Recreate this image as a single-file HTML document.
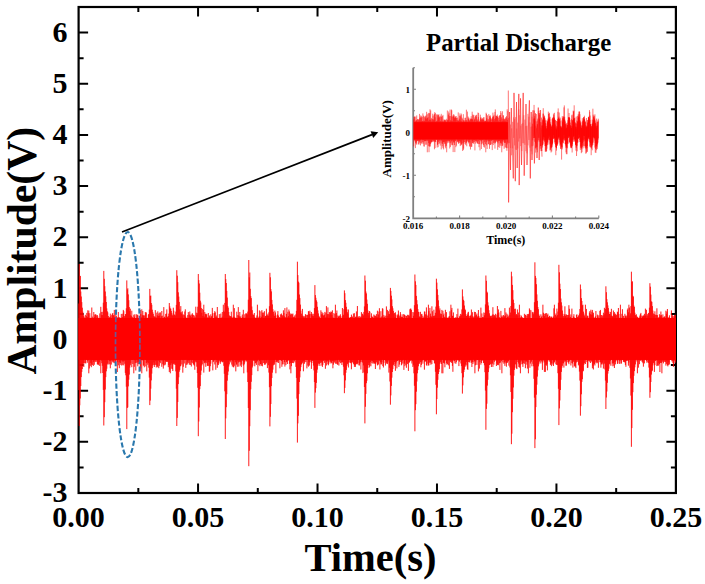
<!DOCTYPE html><html><head><meta charset="utf-8"><style>html,body{margin:0;padding:0;background:#fff;}svg{display:block;}text{font-family:"Liberation Serif",serif;font-weight:bold;fill:#000;}</style></head><body><svg width="705" height="584" viewBox="0 0 705 584"><rect x="0" y="0" width="705" height="584" fill="#fff"/><path d="M138.33 493.0v-5M138.33 7.0v5M198.06 493.0v-9.5M198.06 7.0v9.5M257.79 493.0v-5M257.79 7.0v5M317.52 493.0v-9.5M317.52 7.0v9.5M377.25 493.0v-5M377.25 7.0v5M436.98 493.0v-9.5M436.98 7.0v9.5M496.71 493.0v-5M496.71 7.0v5M556.44 493.0v-9.5M556.44 7.0v9.5M616.17 493.0v-5M616.17 7.0v5M78.6 467.42h5M675.9 467.42h-5M78.6 441.84h9.5M675.9 441.84h-9.5M78.6 416.26h5M675.9 416.26h-5M78.6 390.68h9.5M675.9 390.68h-9.5M78.6 365.11h5M675.9 365.11h-5M78.6 339.53h9.5M675.9 339.53h-9.5M78.6 313.95h5M675.9 313.95h-5M78.6 288.37h9.5M675.9 288.37h-9.5M78.6 262.79h5M675.9 262.79h-5M78.6 237.21h9.5M675.9 237.21h-9.5M78.6 211.63h5M675.9 211.63h-5M78.6 186.05h9.5M675.9 186.05h-9.5M78.6 160.47h5M675.9 160.47h-5M78.6 134.89h9.5M675.9 134.89h-9.5M78.6 109.32h5M675.9 109.32h-5M78.6 83.74h9.5M675.9 83.74h-9.5M78.6 58.16h5M675.9 58.16h-5M78.6 32.58h9.5M675.9 32.58h-9.5" stroke="#000" stroke-width="2" fill="none"/><rect x="78.6" y="7.0" width="597.3" height="486.0" fill="none" stroke="#000" stroke-width="2.2"/><rect x="78.6" y="318.0" width="597.3" height="41.9" fill="#ff0000"/><path d="M78.8 303.5V390.1M79.3 264.0V426.0M79.8 276.0V405.3M80.3 275.9V398.5M80.8 291.5V386.0M81.3 296.5V377.1M81.8 302.1V371.9M82.3 307.7V369.0M82.8 311.7V364.5M83.3 314.6V363.1M83.8 316.1V367.0M84.3 317.4V363.1M84.8 318.6V359.1M85.3 314.8V363.1M85.8 318.9V363.5M86.3 315.9V359.3M86.8 312.9V359.8M87.3 317.0V362.8M87.8 310.3V360.8M88.3 313.1V360.1M88.8 310.6V373.3M89.3 318.0V368.5M89.8 313.2V359.1M90.3 317.8V365.9M90.8 318.3V362.9M91.3 318.2V367.2M91.8 307.5V364.5M92.3 316.6V365.0M92.8 318.8V360.0M93.3 318.2V366.0M93.8 312.0V362.0M94.3 316.9V364.8M94.8 314.6V360.6M95.3 314.6V362.1M95.8 314.2V360.5M96.3 315.3V360.3M96.8 318.9V361.9M97.3 315.0V364.4M97.8 316.4V364.5M98.3 318.5V364.4M98.8 318.6V365.2M99.3 318.8V362.4M99.8 313.4V366.0M100.3 318.7V359.6M100.8 306.8V373.3M101.3 311.9V360.7M101.8 315.1V363.2M102.3 315.1V365.8M102.8 311.8V373.0M103.3 302.7V389.9M103.8 270.9V425.5M104.3 278.8V417.2M104.8 286.2V402.2M105.3 291.5V389.5M105.8 296.3V377.1M106.3 302.0V371.3M106.8 308.4V368.7M107.3 311.3V364.5M107.8 312.4V363.5M108.3 316.0V359.9M108.8 318.1V364.5M109.3 316.9V361.2M109.8 318.5V364.2M110.3 313.6V368.3M110.8 316.4V361.0M111.3 318.2V364.6M111.8 314.9V360.1M112.3 313.8V360.9M112.8 313.0V362.2M113.3 315.4V362.6M113.8 315.1V361.2M114.3 309.9V363.2M114.8 316.9V359.8M115.3 318.6V362.5M115.8 313.3V361.9M116.3 315.9V360.5M116.8 317.6V359.4M117.3 317.4V372.0M117.8 317.9V362.2M118.3 312.0V365.3M118.8 317.1V359.2M119.3 317.7V368.2M119.8 317.4V362.3M120.3 318.5V363.1M120.8 318.2V364.9M121.3 313.9V360.5M121.8 319.0V365.6M122.3 317.0V361.4M122.8 313.7V364.9M123.3 309.9V361.6M123.8 311.2V365.4M124.3 316.0V360.9M124.8 317.5V363.8M125.3 314.2V372.9M125.8 314.1V375.3M126.3 308.3V386.7M126.8 280.4V429.1M127.3 289.5V408.0M127.8 288.3V407.3M128.3 294.4V386.4M128.8 300.2V379.7M129.3 307.1V374.6M129.8 311.1V367.6M130.3 308.7V365.3M130.8 315.2V363.4M131.3 316.2V359.9M131.8 310.7V367.2M132.3 316.8V359.8M132.8 318.3V364.0M133.3 318.1V359.1M133.8 314.7V373.3M134.3 316.7V366.8M134.8 314.3V360.2M135.3 318.7V363.1M135.8 318.9V370.5M136.3 314.2V362.8M136.8 317.9V359.2M137.3 315.1V362.5M137.8 314.6V366.3M138.3 318.2V364.1M138.8 318.7V361.7M139.3 316.3V361.8M139.8 318.5V362.6M140.3 309.9V370.9M140.8 313.9V368.5M141.3 317.4V360.0M141.8 309.3V373.3M142.3 315.2V360.3M142.8 311.0V360.2M143.3 315.6V365.5M143.8 315.2V365.6M144.3 315.5V367.3M144.8 318.5V359.1M145.3 312.0V360.0M145.8 313.3V366.4M146.3 312.4V363.0M146.8 318.8V371.4M147.3 317.8V362.3M147.8 318.3V364.8M148.3 314.6V363.2M148.8 314.0V367.7M149.3 309.6V377.6M149.8 288.9V405.1M150.3 295.9V400.6M150.8 295.6V388.7M151.3 303.0V380.4M151.8 304.8V373.6M152.3 309.7V368.2M152.8 312.1V365.5M153.3 313.8V364.9M153.8 315.9V362.5M154.3 316.8V367.0M154.8 316.5V365.0M155.3 310.1V364.8M155.8 317.3V361.2M156.3 317.7V367.5M156.8 312.7V365.2M157.3 315.3V366.5M157.8 311.4V367.3M158.3 316.0V360.8M158.8 313.4V368.2M159.3 315.6V365.9M159.8 312.6V362.1M160.3 312.4V363.2M160.8 318.1V360.0M161.3 316.2V360.5M161.8 311.0V366.8M162.3 315.7V360.5M162.8 319.0V364.3M163.3 318.7V368.6M163.8 307.1V365.4M164.3 317.0V360.4M164.8 316.6V365.3M165.3 318.4V364.5M165.8 314.0V361.4M166.3 313.5V361.6M166.8 309.4V361.9M167.3 316.7V361.8M167.8 317.3V361.6M168.3 316.0V367.2M168.8 313.6V365.0M169.3 303.0V372.0M169.8 306.4V369.5M170.3 308.4V373.3M170.8 308.7V365.0M171.3 310.9V363.4M171.8 312.9V368.7M172.3 314.7V369.1M172.8 316.0V371.0M173.3 307.7V364.2M173.8 310.7V363.4M174.3 314.7V364.6M174.8 314.6V363.5M175.3 315.5V365.0M175.8 311.6V371.4M176.3 304.9V388.7M176.8 270.2V426.0M177.3 275.7V417.9M177.8 282.2V402.0M178.3 292.3V384.1M178.8 296.6V377.3M179.3 301.9V371.7M179.8 309.4V369.9M180.3 312.4V366.3M180.8 306.1V366.1M181.3 312.2V359.1M181.8 313.8V364.5M182.3 311.3V359.8M182.8 315.3V372.7M183.3 314.4V366.8M183.8 319.0V359.4M184.3 315.1V363.5M184.8 311.5V359.7M185.3 309.3V359.5M185.8 316.6V367.9M186.3 318.9V364.9M186.8 317.9V359.2M187.3 318.9V364.5M187.8 315.1V362.6M188.3 312.1V360.5M188.8 318.3V363.2M189.3 314.6V364.7M189.8 311.5V360.3M190.3 316.0V365.0M190.8 314.7V359.5M191.3 317.2V366.5M191.8 314.5V362.4M192.3 313.2V360.0M192.8 314.5V363.1M193.3 315.0V364.3M193.8 318.2V364.7M194.3 315.5V365.7M194.8 317.4V369.8M195.3 317.5V361.2M195.8 306.7V362.3M196.3 312.7V362.2M196.8 315.0V366.7M197.3 313.1V373.0M197.8 306.7V387.8M198.3 274.0V436.2M198.8 280.1V421.5M199.3 283.5V407.5M199.8 292.7V389.1M200.3 300.7V386.1M200.8 302.5V374.9M201.3 308.0V370.6M201.8 312.7V365.5M202.3 308.9V364.3M202.8 315.9V359.4M203.3 310.0V361.1M203.8 304.7V372.6M204.3 316.6V362.7M204.8 312.0V363.3M205.3 314.1V362.4M205.8 313.7V366.8M206.3 314.7V362.9M206.8 313.9V360.6M207.3 318.3V365.7M207.8 317.2V365.9M208.3 313.0V365.9M208.8 318.9V362.0M209.3 315.4V371.8M209.8 316.5V371.2M210.3 318.1V366.2M210.8 314.3V363.7M211.3 316.7V359.7M211.8 315.9V360.0M212.3 307.9V359.4M212.8 313.2V370.4M213.3 318.4V362.1M213.8 319.0V361.1M214.3 313.0V360.0M214.8 311.1V364.5M215.3 312.3V359.3M215.8 316.9V369.8M216.3 315.5V362.3M216.8 317.3V360.2M217.3 307.0V367.8M217.8 317.9V364.7M218.3 318.8V365.1M218.8 318.7V363.3M219.3 314.1V361.4M219.8 317.8V359.4M220.3 318.2V363.8M220.8 313.6V362.0M221.3 317.5V361.3M221.8 319.0V361.2M222.3 312.0V362.4M222.8 316.5V362.0M223.3 304.7V361.6M223.8 310.7V365.8M224.3 311.8V373.8M224.8 302.9V391.3M225.3 274.0V439.0M225.8 279.1V418.4M226.3 283.0V407.2M226.8 290.9V394.2M227.3 297.6V380.7M227.8 306.1V375.1M228.3 307.7V371.5M228.8 312.0V366.5M229.3 315.4V364.4M229.8 316.2V360.9M230.3 316.4V362.4M230.8 316.1V360.8M231.3 311.7V359.9M231.8 316.7V364.6M232.3 318.8V366.5M232.8 317.5V361.3M233.3 304.7V367.2M233.8 316.7V367.3M234.3 308.1V365.8M234.8 317.3V360.1M235.3 317.9V362.3M235.8 318.0V371.4M236.3 318.6V364.6M236.8 311.7V364.4M237.3 318.0V366.8M237.8 315.1V360.9M238.3 307.1V362.5M238.8 315.5V366.7M239.3 316.4V362.1M239.8 312.0V360.9M240.3 317.6V365.7M240.8 316.3V362.1M241.3 318.2V367.1M241.8 319.1V364.3M242.3 314.5V359.7M242.8 316.9V361.1M243.3 309.8V365.6M243.8 317.9V373.3M244.3 318.1V364.4M244.8 314.3V362.4M245.3 317.6V360.7M245.8 313.3V359.4M246.3 314.0V361.6M246.8 313.2V360.9M247.3 314.4V372.4M247.8 311.6V382.0M248.3 299.7V408.0M248.8 260.0V466.2M249.3 277.3V450.8M249.8 272.5V426.2M250.3 288.8V410.2M250.8 296.1V389.3M251.3 298.1V381.8M251.8 306.5V375.1M252.3 310.2V367.5M252.8 314.3V365.8M253.3 314.7V360.9M253.8 315.1V359.5M254.3 313.0V361.1M254.8 317.1V366.3M255.3 318.1V363.3M255.8 318.1V363.1M256.4 317.7V364.9M256.9 315.4V362.1M257.4 304.7V360.9M257.9 318.1V371.2M258.4 318.7V359.0M258.9 316.7V365.1M259.4 310.4V361.1M259.9 316.3V366.2M260.4 318.8V364.3M260.9 311.3V364.0M261.4 316.8V365.8M261.9 310.1V359.5M262.4 312.6V366.3M262.9 315.1V360.5M263.4 312.5V363.1M263.9 318.4V359.3M264.4 311.2V364.8M264.9 317.4V363.4M265.4 315.9V364.6M265.9 316.1V359.2M266.4 308.7V363.3M266.9 315.1V361.7M267.4 315.5V368.1M267.9 313.7V359.0M268.4 315.7V365.3M268.9 312.3V372.6M269.4 306.2V387.2M269.9 272.8V426.4M270.4 277.3V416.8M270.9 289.1V404.0M271.4 291.4V386.1M271.9 299.9V378.0M272.4 304.4V372.7M272.9 309.2V369.6M273.4 311.7V365.3M273.9 314.4V363.5M274.4 316.0V364.7M274.9 310.6V362.0M275.4 312.4V359.1M275.9 315.4V373.3M276.4 318.2V362.1M276.9 318.1V360.6M277.4 314.5V362.4M277.9 311.1V360.9M278.4 315.5V363.0M278.9 318.3V359.3M279.4 317.3V359.7M279.9 317.3V368.3M280.4 314.3V359.8M280.9 318.1V360.3M281.4 313.5V361.0M281.9 314.8V366.8M282.4 315.4V364.4M282.9 316.9V359.2M283.4 310.3V359.4M283.9 312.9V364.3M284.4 316.3V362.0M284.9 308.1V366.6M285.4 317.3V360.0M285.9 317.7V365.1M286.4 313.9V362.2M286.9 307.4V361.4M287.4 317.4V364.0M287.9 311.8V360.8M288.4 316.1V360.4M288.9 309.5V360.0M289.4 311.4V363.9M289.9 317.3V369.4M290.4 314.5V362.9M290.9 313.3V373.3M291.4 314.1V366.2M291.9 317.5V363.0M292.4 314.3V362.9M292.9 313.5V360.4M293.4 316.9V363.2M293.9 318.8V359.5M294.4 316.6V360.9M294.9 315.3V362.4M295.4 317.7V359.6M295.9 314.3V366.9M296.4 310.9V377.9M296.9 299.8V398.6M297.4 261.7V442.6M297.9 275.1V423.4M298.4 281.6V415.8M298.9 282.7V394.1M299.4 294.5V382.0M299.9 298.1V377.4M300.4 304.6V371.2M300.9 310.7V367.1M301.4 313.6V364.5M301.9 315.9V363.8M302.4 308.9V362.8M302.9 315.6V361.4M303.4 316.4V371.3M303.9 318.3V360.8M304.4 316.3V363.8M304.9 318.8V362.3M305.4 314.1V359.7M305.9 315.1V362.0M306.4 318.8V359.8M306.9 314.7V368.4M307.4 314.9V360.0M307.9 318.9V365.6M308.4 311.1V366.7M308.9 311.6V361.8M309.4 314.1V365.6M309.9 310.7V362.4M310.4 318.8V359.3M310.9 314.0V361.7M311.4 312.0V368.9M311.9 314.1V363.0M312.4 315.6V360.7M312.9 313.6V361.0M313.4 316.1V365.6M313.9 314.1V370.4M314.4 308.1V382.1M314.9 285.1V407.9M315.4 295.1V392.6M315.9 297.8V388.2M316.4 300.3V382.9M316.9 301.8V372.8M317.4 306.8V369.6M317.9 310.4V366.0M318.4 313.4V363.3M318.9 315.8V364.4M319.4 316.8V363.8M319.9 318.3V366.0M320.4 318.8V362.9M320.9 310.3V361.1M321.4 314.3V362.6M321.9 311.9V365.7M322.4 314.4V366.9M322.9 312.9V364.9M323.4 315.6V360.9M323.9 315.3V360.5M324.4 314.6V362.9M324.9 311.9V359.4M325.4 317.4V368.8M325.9 312.7V361.2M326.4 306.1V365.5M326.9 316.6V362.0M327.4 314.1V360.9M327.9 307.4V364.3M328.4 314.1V365.3M328.9 317.7V363.6M329.4 312.1V359.0M329.9 314.6V361.7M330.4 312.7V361.6M330.9 311.5V363.5M331.4 311.9V362.6M331.9 315.1V363.2M332.4 310.3V361.0M332.9 317.3V368.3M333.4 318.9V364.7M333.9 313.1V361.2M334.4 318.6V362.6M334.9 313.9V360.5M335.4 304.7V363.7M335.9 318.9V360.5M336.4 313.1V363.8M336.9 310.5V359.6M337.4 318.4V364.6M337.9 315.5V364.7M338.4 316.7V359.4M338.9 316.3V365.6M339.4 315.6V361.8M339.9 318.8V359.4M340.4 314.3V363.2M340.9 316.3V360.3M341.4 318.6V362.5M341.9 317.9V365.0M342.4 308.0V362.0M342.9 315.7V362.6M343.4 314.7V366.7M343.9 309.2V375.3M344.4 290.4V393.2M344.9 293.2V387.9M345.4 300.1V380.4M345.9 302.8V372.8M346.4 306.8V369.9M346.9 309.4V365.8M347.4 312.2V364.2M347.9 313.8V363.0M348.4 309.5V367.5M348.9 317.1V362.2M349.4 318.4V360.1M349.9 318.3V362.7M350.4 317.1V363.2M350.9 317.3V361.8M351.4 314.6V369.3M351.9 317.0V362.8M352.4 316.5V362.2M352.9 318.6V360.2M353.4 313.5V363.7M353.9 318.0V364.4M354.4 313.2V366.9M354.9 318.4V365.0M355.4 317.0V366.9M355.9 316.5V364.4M356.4 311.4V364.1M356.9 316.9V362.7M357.4 306.0V364.3M357.9 317.8V363.0M358.4 317.3V359.9M358.9 316.1V365.3M359.4 317.9V365.5M359.9 316.1V363.5M360.4 317.1V362.1M360.9 318.1V369.5M361.4 312.1V359.3M361.9 316.6V361.9M362.4 313.7V362.6M362.9 314.4V373.1M363.4 315.4V365.4M363.9 311.9V372.3M364.4 306.4V387.0M364.9 275.5V423.4M365.4 280.7V406.8M365.9 291.5V393.9M366.4 293.4V383.2M366.9 299.6V380.8M367.4 303.8V373.3M367.9 310.4V368.1M368.4 312.9V365.1M368.9 315.4V362.8M369.4 311.0V367.5M369.9 311.7V365.7M370.4 318.6V362.2M370.9 318.0V366.3M371.4 313.3V360.8M371.9 315.9V363.1M372.4 317.1V361.1M372.9 317.2V363.7M373.4 318.6V362.3M373.9 314.5V363.5M374.4 315.5V363.2M374.9 318.8V363.9M375.4 315.7V369.0M375.9 316.4V363.7M376.4 314.1V362.3M376.9 317.2V360.4M377.4 310.7V365.4M377.9 317.4V365.1M378.4 314.4V364.3M378.9 311.5V360.6M379.4 308.2V360.7M379.9 318.8V369.5M380.4 317.6V362.4M380.9 311.2V364.4M381.4 317.4V364.3M381.9 316.3V362.1M382.4 308.3V359.3M382.9 308.7V366.0M383.4 317.5V367.5M383.9 314.9V362.9M384.4 317.3V360.1M384.9 316.3V359.9M385.4 319.0V365.5M385.9 315.6V361.1M386.4 306.4V363.6M386.9 318.5V362.4M387.4 309.9V364.1M387.9 315.9V362.5M388.4 311.2V360.6M388.9 313.8V372.6M389.4 314.1V367.8M389.9 309.4V381.5M390.4 287.9V404.7M390.9 290.9V395.4M391.4 295.7V385.9M391.9 299.4V377.7M392.4 306.2V372.0M392.9 308.3V369.1M393.4 310.9V365.2M393.9 313.8V364.0M394.4 312.9V362.0M394.9 317.0V366.1M395.4 312.3V370.8M395.9 314.6V363.5M396.4 318.2V361.6M396.9 318.2V368.4M397.4 315.4V361.0M397.9 314.3V360.8M398.4 310.5V360.2M398.9 314.8V366.9M399.4 317.5V364.6M399.9 316.0V361.7M400.4 312.1V359.8M400.9 314.3V362.0M401.4 316.8V365.3M401.9 316.8V364.4M402.4 316.9V360.6M402.9 314.3V363.4M403.4 318.0V359.3M403.9 314.0V369.9M404.4 314.9V363.7M404.9 315.1V366.2M405.4 318.1V360.3M405.9 315.8V364.9M406.4 316.0V367.8M406.9 317.9V362.7M407.4 314.8V364.1M407.9 318.7V359.0M408.4 315.4V370.9M408.9 314.8V362.9M409.4 316.2V362.3M409.9 309.3V361.3M410.4 308.7V360.8M410.9 308.6V360.0M411.4 309.9V360.5M411.9 318.8V363.5M412.4 318.1V361.3M412.9 312.0V367.0M413.4 315.8V365.4M413.9 312.4V373.3M414.4 305.2V385.8M414.9 274.5V431.3M415.4 281.3V410.2M415.9 284.9V404.2M416.4 295.9V391.7M416.9 300.2V381.5M417.4 304.3V373.3M417.9 309.1V370.1M418.4 311.8V366.3M418.9 312.1V364.0M419.4 316.5V363.6M419.9 316.8V360.6M420.4 311.8V362.1M420.9 317.4V367.3M421.4 314.3V364.9M421.9 313.9V361.7M422.4 318.9V360.4M422.9 315.7V363.7M423.4 317.4V359.1M423.9 318.0V360.2M424.4 311.5V369.7M424.9 311.7V361.7M425.4 314.3V361.5M425.9 317.3V361.0M426.4 307.4V365.1M426.9 314.7V365.8M427.4 318.6V360.2M427.9 315.8V363.6M428.4 304.7V365.5M428.9 311.1V365.4M429.4 317.4V362.7M429.9 307.9V360.1M430.4 313.6V362.6M430.9 316.0V364.7M431.4 316.7V359.0M431.9 306.3V364.1M432.4 311.2V359.5M432.9 316.5V359.7M433.4 315.9V360.2M433.9 309.7V360.5M434.4 316.1V363.1M434.9 315.3V363.7M435.4 312.8V371.8M435.9 306.6V384.8M436.4 278.7V414.3M436.9 282.6V399.1M437.4 289.3V387.7M437.9 294.9V379.8M438.4 300.3V374.0M438.9 306.2V372.0M439.4 310.3V369.1M439.9 308.4V363.9M440.4 313.5V362.4M440.9 316.4V360.4M441.4 313.9V364.0M441.9 309.9V373.3M442.4 319.0V359.1M442.9 310.8V373.3M443.4 314.9V363.0M443.9 313.5V362.2M444.4 316.8V363.6M444.9 318.7V367.3M445.4 309.8V360.5M445.9 317.5V359.2M446.4 312.1V363.2M446.9 317.7V364.7M447.4 318.6V364.1M447.9 317.6V360.6M448.4 318.7V365.4M448.9 316.6V359.6M449.4 316.2V368.9M449.9 311.3V360.6M450.4 318.9V362.1M450.9 304.7V360.7M451.4 309.9V362.9M451.9 307.9V361.4M452.4 315.8V365.9M452.9 315.9V371.8M453.4 312.4V359.5M453.9 318.8V360.9M454.4 318.7V361.2M454.9 317.7V363.3M455.4 318.6V359.6M455.9 317.1V363.8M456.4 318.7V362.2M456.9 314.1V359.4M457.4 317.3V359.7M457.9 308.6V360.7M458.4 318.7V360.1M458.9 318.0V366.1M459.4 316.6V361.7M459.9 315.8V360.3M460.4 313.9V359.7M460.9 316.1V363.5M461.4 314.5V366.1M461.9 309.4V373.2M462.4 289.4V393.6M462.9 296.4V385.4M463.4 299.8V377.4M463.9 300.8V372.0M464.4 305.5V369.7M464.9 308.8V366.9M465.4 310.1V364.7M465.9 314.2V366.3M466.4 316.0V361.9M466.9 316.0V364.9M467.4 314.6V369.1M467.9 312.6V369.9M468.4 311.8V362.1M468.9 315.6V359.3M469.4 317.7V361.9M469.9 316.0V362.7M470.4 316.0V360.5M470.9 314.8V359.2M471.4 309.5V362.8M471.9 317.4V367.0M472.4 312.2V362.0M472.9 316.1V364.0M473.4 317.4V359.0M473.9 317.6V362.3M474.4 311.8V361.2M474.9 316.4V373.3M475.4 312.0V365.3M475.9 315.6V361.4M476.4 314.8V359.4M476.9 313.5V364.9M477.4 317.1V360.1M477.9 316.1V359.7M478.4 310.0V371.4M478.9 315.9V359.4M479.4 318.6V368.6M479.9 317.4V362.1M480.4 318.6V359.5M480.9 307.6V364.7M481.4 318.9V363.0M481.9 313.4V360.6M482.4 317.1V360.5M482.9 317.3V359.7M483.4 317.2V363.1M483.9 312.4V362.6M484.4 315.3V365.3M484.9 313.0V372.2M485.4 304.4V390.6M485.9 275.5V429.8M486.4 280.8V408.9M486.9 291.6V403.7M487.4 292.6V385.6M487.9 302.3V379.8M488.4 305.5V372.1M488.9 310.2V368.3M489.4 313.3V365.0M489.9 315.5V365.0M490.4 316.1V364.0M490.9 316.5V360.1M491.4 315.7V367.0M491.9 318.9V363.8M492.4 314.6V363.5M492.9 307.2V366.9M493.4 314.4V360.3M493.9 316.9V364.7M494.4 315.2V361.8M494.9 315.5V359.8M495.4 313.8V359.0M495.9 316.8V360.9M496.4 318.9V366.0M496.9 314.6V363.3M497.4 306.0V365.1M497.9 313.0V364.3M498.4 309.4V365.2M498.9 312.4V360.6M499.4 317.2V363.2M499.9 318.4V369.9M500.4 318.2V362.7M500.9 310.9V359.7M501.4 316.9V361.2M501.9 315.4V373.3M502.4 316.5V359.6M502.9 318.7V362.4M503.4 315.0V359.4M503.9 316.2V363.8M504.4 316.4V362.5M504.9 308.1V365.9M505.4 315.4V361.5M505.9 312.4V363.3M506.4 318.0V366.7M506.9 313.7V362.9M507.4 316.9V362.7M507.9 314.7V361.4M508.4 316.3V361.2M508.9 318.3V365.7M509.4 307.6V359.1M509.9 315.1V367.5M510.4 312.5V375.3M510.9 306.0V392.0M511.4 271.7V444.2M511.9 276.3V433.7M512.4 284.9V412.2M512.9 290.2V398.8M513.4 299.7V387.5M513.9 303.0V375.7M514.4 308.9V369.9M514.9 311.9V367.7M515.4 308.7V364.4M515.9 315.3V359.2M516.4 314.0V368.4M516.9 315.1V369.1M517.4 309.4V359.1M517.9 315.5V362.0M518.4 312.5V363.6M518.9 318.4V367.0M519.4 304.7V367.6M519.9 314.8V365.1M520.4 318.6V373.3M520.9 316.9V361.7M521.4 315.6V360.6M521.9 317.0V364.3M522.4 317.6V363.8M522.9 317.8V366.9M523.4 318.2V363.3M523.9 318.5V360.3M524.4 313.8V363.8M524.9 319.0V360.5M525.4 315.0V368.2M525.9 314.6V361.6M526.4 318.0V361.5M526.9 316.0V364.7M527.4 314.1V368.6M527.9 318.2V362.3M528.4 314.2V373.3M528.9 313.8V359.5M529.4 308.4V359.6M529.9 309.8V367.8M530.4 318.1V363.6M530.9 310.2V359.0M531.4 318.5V361.7M531.9 318.6V366.3M532.4 311.9V359.3M532.9 313.0V363.8M533.4 314.2V366.3M533.9 312.1V378.8M534.4 302.2V397.7M534.9 262.3V448.1M535.4 275.9V439.3M535.9 277.9V407.1M536.4 284.2V394.7M536.9 294.4V384.7M537.4 300.8V376.6M537.9 307.0V370.3M538.4 309.2V366.4M538.9 314.4V364.3M539.4 315.8V361.1M539.9 318.4V362.4M540.4 318.7V360.3M540.9 314.3V363.5M541.4 317.0V361.5M541.9 315.8V360.0M542.4 318.2V369.9M542.9 304.7V362.5M543.4 312.7V359.7M543.9 313.6V360.9M544.4 316.1V371.9M544.9 314.0V362.2M545.4 313.3V371.9M545.9 318.6V365.0M546.4 313.1V365.7M546.9 317.4V363.9M547.4 314.8V370.4M547.9 313.6V361.4M548.4 317.1V359.3M548.9 317.2V360.1M549.4 315.8V360.6M549.9 316.1V361.9M550.4 317.4V364.9M550.9 318.9V363.5M551.4 316.6V366.2M551.9 316.8V363.3M552.4 318.8V360.2M552.9 318.9V364.7M553.4 316.5V366.0M553.9 308.3V363.3M554.4 304.7V362.2M554.9 318.1V361.1M555.4 315.0V359.2M555.9 313.5V364.2M556.4 316.4V364.9M556.9 308.6V361.1M557.4 315.1V365.1M557.9 311.5V373.2M558.4 302.7V388.8M558.9 264.8V425.1M559.4 272.3V408.4M559.9 283.7V400.5M560.4 289.0V390.0M560.9 298.5V379.8M561.4 302.3V371.9M561.9 305.6V367.7M562.4 310.5V365.8M562.9 313.8V362.9M563.4 316.1V363.4M563.9 318.7V367.6M564.4 314.3V360.7M564.9 306.3V362.1M565.4 316.1V361.2M565.9 314.3V365.7M566.4 314.6V365.6M566.9 318.0V360.2M567.4 315.0V360.1M567.9 317.3V362.2M568.4 314.9V362.6M568.9 305.2V364.2M569.4 308.8V361.5M569.9 318.9V359.0M570.4 316.8V359.8M570.9 314.4V365.5M571.4 318.4V360.2M571.9 308.6V363.1M572.4 319.0V363.5M572.9 318.6V367.6M573.4 316.4V361.8M573.9 314.2V360.4M574.4 317.5V366.4M574.9 317.9V365.5M575.4 318.3V366.7M575.9 318.7V368.1M576.4 314.9V362.5M576.9 314.3V359.3M577.4 317.2V361.8M577.9 316.9V359.4M578.4 315.3V365.4M578.9 316.3V364.2M579.4 313.5V371.6M579.9 309.0V380.6M580.4 284.5V415.7M580.9 289.2V406.2M581.4 298.1V394.3M581.9 301.0V381.9M582.4 305.3V379.2M582.9 304.7V371.5M583.4 311.6V370.8M583.9 313.5V364.8M584.4 315.4V363.3M584.9 316.8V360.1M585.4 304.7V364.0M585.9 318.0V360.2M586.4 308.9V360.0M586.9 317.4V362.1M587.4 315.7V367.9M587.9 315.8V367.7M588.4 318.1V360.7M588.9 317.8V360.5M589.4 312.5V361.6M589.9 311.0V359.7M590.4 314.2V363.0M590.9 309.7V359.7M591.4 314.6V360.9M591.9 311.7V362.2M592.4 309.9V368.3M592.9 314.6V365.8M593.4 312.7V369.5M593.9 317.7V363.5M594.4 317.6V364.3M594.9 318.8V365.5M595.4 316.4V359.5M595.9 311.0V362.7M596.4 318.2V361.7M596.9 318.5V363.4M597.4 314.6V362.7M597.9 316.4V359.6M598.4 317.9V367.8M598.9 315.2V359.7M599.4 318.9V359.4M599.9 311.0V362.2M600.4 309.9V362.3M600.9 317.7V367.7M601.4 315.0V364.5M601.9 317.4V363.8M602.4 315.4V362.7M602.9 317.8V364.5M603.4 312.7V368.6M603.9 315.3V360.5M604.4 307.8V363.7M604.9 313.8V369.4M605.4 308.9V380.6M605.9 286.3V409.0M606.4 292.2V397.5M606.9 299.1V391.5M607.4 302.3V382.8M607.9 305.4V373.6M608.4 308.1V371.0M608.9 311.6V368.7M609.4 314.0V363.8M609.9 313.9V364.4M610.4 311.9V360.7M610.9 315.8V365.8M611.4 308.8V359.4M611.9 315.6V360.0M612.4 316.2V363.5M612.9 316.8V366.3M613.4 310.5V363.3M613.9 313.7V365.7M614.4 312.1V368.0M614.9 315.1V362.0M615.4 313.7V364.4M615.9 315.6V361.3M616.4 314.7V359.3M616.9 318.6V360.3M617.4 311.7V363.9M617.9 312.3V363.5M618.4 308.0V359.4M618.9 314.0V360.4M619.4 317.8V363.9M619.9 318.0V360.7M620.4 304.7V360.2M620.9 317.8V363.7M621.4 318.1V363.5M621.9 313.8V360.3M622.4 309.2V359.6M622.9 319.1V359.8M623.4 315.8V362.0M623.9 318.5V360.8M624.4 318.0V362.4M624.9 313.8V361.9M625.4 316.1V364.9M625.9 315.4V366.8M626.4 317.5V360.8M626.9 315.8V360.9M627.4 309.7V359.8M627.9 308.4V361.0M628.4 312.3V365.7M628.9 304.7V362.6M629.4 307.5V359.8M629.9 315.5V367.8M630.4 313.3V378.5M630.9 306.1V395.6M631.4 271.7V446.8M631.9 281.9V428.1M632.4 281.3V409.8M632.9 295.8V392.2M633.4 296.6V383.1M633.9 305.6V375.8M634.4 306.9V371.1M634.9 312.7V367.3M635.4 314.9V364.4M635.9 315.9V359.8M636.4 314.3V359.1M636.9 317.4V361.5M637.4 316.7V373.3M637.9 317.4V359.4M638.4 318.8V367.7M638.9 318.5V360.1M639.4 317.6V364.2M639.9 315.6V360.2M640.4 314.1V360.8M640.9 312.9V359.8M641.4 318.9V359.6M641.9 315.6V361.5M642.4 316.8V361.7M642.9 315.9V363.2M643.4 315.4V366.7M643.9 315.8V359.0M644.4 313.8V363.4M644.9 315.5V360.1M645.4 308.6V359.3M645.9 315.7V359.8M646.4 309.8V361.1M646.9 318.9V362.8M647.4 314.2V360.1M647.9 316.1V362.1M648.4 312.9V363.0M648.9 313.2V367.6M649.4 307.7V377.5M649.9 283.2V397.8M650.4 286.7V392.2M650.9 294.6V382.0M651.4 301.4V374.6M651.9 301.8V371.3M652.4 306.1V370.6M652.9 310.6V365.4M653.4 313.5V363.2M653.9 315.6V361.8M654.4 314.2V371.9M654.9 311.3V365.1M655.4 314.7V360.8M655.9 318.8V360.8M656.4 314.9V360.1M656.9 308.3V366.1M657.4 315.1V365.6M657.9 318.5V360.5M658.4 318.3V365.7M658.9 317.0V363.1M659.4 314.2V364.3M659.9 316.8V372.0M660.4 315.3V363.0M660.9 311.5V361.7M661.4 314.8V363.0M661.9 316.6V373.3M662.4 318.9V361.7M662.9 314.4V359.8M663.4 317.3V363.4M663.9 318.9V361.8M664.4 316.7V361.7M664.9 316.3V359.9M665.4 317.9V362.0M665.9 310.7V365.6M666.4 313.8V363.9M666.9 311.6V361.1M667.4 309.0V365.4M667.9 317.5V366.4M668.4 318.1V364.9M668.9 317.3V362.4M669.4 315.3V364.5M669.9 318.8V359.8M670.4 319.0V360.0M670.9 318.7V359.3M671.4 310.4V359.8M671.9 318.4V361.4M672.4 315.1V360.8M672.9 316.5V362.9M673.4 318.0V366.9M673.9 316.1V364.2M674.4 314.9V359.5M674.9 316.8V361.0M675.4 314.8V362.7" stroke="#ff0000" stroke-width="0.9" fill="none"/><text x="67.5" y="502.2" font-size="30" text-anchor="end">-3</text><text x="67.5" y="451.0" font-size="30" text-anchor="end">-2</text><text x="67.5" y="399.9" font-size="30" text-anchor="end">-1</text><text x="67.5" y="348.7" font-size="30" text-anchor="end">0</text><text x="67.5" y="297.6" font-size="30" text-anchor="end">1</text><text x="67.5" y="246.4" font-size="30" text-anchor="end">2</text><text x="67.5" y="195.3" font-size="30" text-anchor="end">3</text><text x="67.5" y="144.1" font-size="30" text-anchor="end">4</text><text x="67.5" y="92.9" font-size="30" text-anchor="end">5</text><text x="67.5" y="41.8" font-size="30" text-anchor="end">6</text><text x="78.6" y="527.4" font-size="30" text-anchor="middle">0.00</text><text x="198.1" y="527.4" font-size="30" text-anchor="middle">0.05</text><text x="317.5" y="527.4" font-size="30" text-anchor="middle">0.10</text><text x="437.0" y="527.4" font-size="30" text-anchor="middle">0.15</text><text x="556.4" y="527.4" font-size="30" text-anchor="middle">0.20</text><text x="675.9" y="527.4" font-size="30" text-anchor="middle">0.25</text><text x="370.4" y="571" font-size="40.5" text-anchor="middle">Time(s)</text><text transform="translate(35.6 250.7) rotate(-90)" x="0" y="0" font-size="41.7" text-anchor="middle">Amplitude(V)</text><defs><clipPath id="cout"><rect x="0" y="0" width="705" height="316"/><rect x="0" y="362" width="705" height="222"/></clipPath><clipPath id="cin"><rect x="0" y="316" width="705" height="46"/></clipPath></defs><ellipse clip-path="url(#cout)" cx="127.7" cy="344.6" rx="12.2" ry="112.6" fill="none" stroke="#2a78ad" stroke-width="2.1" stroke-dasharray="5.2 2.2"/><ellipse clip-path="url(#cin)" cx="127.7" cy="344.6" rx="12.2" ry="112.6" fill="none" stroke="#6c5a96" stroke-width="1.7" stroke-dasharray="5.2 2.2"/><line x1="122" y1="232.0" x2="372" y2="134.7" stroke="#000" stroke-width="1.8"/><path d="M378.2 132.2 L370.6 131.3 L373.2 138.0 Z" fill="#000"/><path d="M413.2 67.8V218.3H598.8" stroke="#808080" stroke-width="1.8" fill="none"/><path d="M413.2 196.80h1.8M413.2 175.30h2.8M413.2 153.80h1.8M413.2 132.30h2.8M413.2 110.80h1.8M413.2 89.30h2.8M413.2 67.80h1.8M436.40 218.30v-1.8M459.60 218.30v-2.8M482.80 218.30v-1.8M506.00 218.30v-2.8M529.20 218.30v-1.8M552.40 218.30v-2.8M575.60 218.30v-1.8M598.80 218.30v-2.8" stroke="#808080" stroke-width="1.1" fill="none"/><rect x="413.8" y="122.2" width="94.2" height="17.2" fill="#ff0000"/><path d="M413.70 119.4V146.4M414.04 117.0V139.4M414.38 116.5V140.3M414.72 116.6V140.6M415.06 122.0V141.6M415.40 121.1V148.1M415.74 116.6V143.0M416.08 120.3V144.2M416.42 120.4V142.5M416.76 115.4V144.7M417.10 120.3V140.9M417.44 119.0V140.7M417.78 122.1V141.2M418.12 119.1V140.4M418.46 119.7V144.4M418.80 121.4V140.9M419.14 119.3V144.5M419.48 113.9V141.6M419.82 117.8V142.8M420.16 121.4V140.3M420.50 117.4V145.4M420.84 115.3V140.3M421.18 116.0V143.0M421.52 117.5V139.5M421.86 121.3V144.1M422.20 116.9V142.6M422.54 121.0V140.0M422.88 113.4V141.9M423.22 121.4V143.7M423.56 115.6V140.1M423.90 120.7V146.2M424.24 116.4V146.7M424.58 120.9V140.9M424.92 117.1V141.5M425.26 118.2V141.0M425.60 116.2V144.7M425.94 115.4V141.0M426.28 119.2V140.7M426.62 111.8V144.7M426.96 118.1V139.7M427.30 114.2V152.3M427.64 118.1V140.6M427.98 117.1V141.2M428.32 112.9V146.1M428.66 120.9V143.1M429.00 113.6V152.2M429.34 119.7V146.7M429.68 113.0V146.3M430.02 109.3V144.3M430.36 120.2V146.5M430.70 110.4V143.8M431.04 119.1V142.5M431.38 117.9V142.1M431.72 121.6V142.4M432.06 120.5V141.6M432.40 119.0V141.8M432.74 113.7V140.0M433.08 115.8V140.8M433.42 119.3V140.6M433.76 120.4V141.6M434.10 114.8V142.2M434.44 113.9V149.3M434.78 112.1V140.8M435.12 117.3V148.1M435.46 113.2V141.9M435.80 121.9V142.1M436.14 121.4V139.5M436.48 114.4V140.0M436.82 121.0V139.7M437.16 120.5V147.5M437.50 114.4V145.1M437.84 115.5V144.0M438.18 117.6V147.2M438.52 115.0V141.8M438.86 114.1V140.2M439.20 116.4V143.8M439.54 117.4V140.5M439.88 121.4V143.2M440.22 116.7V145.6M440.56 121.2V139.8M440.90 115.6V141.3M441.24 113.8V149.4M441.58 116.9V140.4M441.92 121.6V143.5M442.26 121.2V146.3M442.60 116.0V143.9M442.94 114.9V148.2M443.28 122.0V142.1M443.62 121.1V149.4M443.96 119.5V142.2M444.30 119.8V141.7M444.64 119.8V143.6M444.98 121.0V144.1M445.32 120.3V146.6M445.66 119.8V148.3M446.00 121.7V141.2M446.34 118.8V145.8M446.68 122.1V152.3M447.02 120.3V141.4M447.36 110.5V143.3M447.70 119.7V141.3M448.04 120.6V140.0M448.38 114.6V141.2M448.72 111.5V142.7M449.06 113.2V140.9M449.40 116.1V141.4M449.74 121.6V148.5M450.08 109.6V143.2M450.42 120.2V146.9M450.76 116.0V140.2M451.10 121.0V142.7M451.44 109.5V141.3M451.78 110.3V144.8M452.12 116.9V145.4M452.46 121.2V140.6M452.80 115.5V145.0M453.14 116.4V152.1M453.48 114.3V141.6M453.82 116.3V142.8M454.16 114.7V142.3M454.50 118.2V145.0M454.84 116.5V152.1M455.18 117.8V140.7M455.52 116.5V141.0M455.86 117.7V147.2M456.20 116.0V139.4M456.54 118.0V145.7M456.88 121.7V139.6M457.22 120.0V141.2M457.56 117.6V141.9M457.90 121.0V141.6M458.24 112.4V143.1M458.58 120.8V143.9M458.92 120.2V141.7M459.26 118.7V141.2M459.60 115.7V143.0M459.94 113.4V141.0M460.28 120.6V146.1M460.62 116.3V142.5M460.96 115.0V145.2M461.30 113.6V144.0M461.64 121.2V145.1M461.98 117.6V143.7M462.32 122.1V140.3M462.66 118.6V151.0M463.00 120.6V143.1M463.34 114.2V150.0M463.68 120.2V148.6M464.02 121.4V142.4M464.36 120.4V139.7M464.70 121.9V142.0M465.04 117.9V144.0M465.38 117.7V139.5M465.72 120.3V145.1M466.06 121.7V143.2M466.40 109.7V142.5M466.74 120.0V146.3M467.08 121.2V141.3M467.42 111.6V140.7M467.76 122.1V139.5M468.10 116.5V142.0M468.44 118.7V143.4M468.78 117.6V142.1M469.12 119.6V140.0M469.46 120.5V146.4M469.80 121.5V142.5M470.14 118.3V146.6M470.48 119.4V149.5M470.82 119.1V139.6M471.16 116.2V139.6M471.50 118.5V146.8M471.84 119.2V146.8M472.18 111.7V141.1M472.52 119.3V143.0M472.86 114.5V143.4M473.20 115.4V142.3M473.54 121.4V143.7M473.88 114.9V140.2M474.22 119.9V140.1M474.56 118.7V141.9M474.90 117.2V150.4M475.24 121.8V143.7M475.58 116.0V141.0M475.92 115.0V139.8M476.26 116.8V141.5M476.60 114.8V141.5M476.94 121.3V142.9M477.28 119.3V143.7M477.62 120.6V143.6M477.96 112.5V139.4M478.30 117.1V141.2M478.64 113.0V144.0M478.98 121.8V147.2M479.32 121.5V140.0M479.66 121.3V144.0M480.00 119.5V150.4M480.34 114.7V140.0M480.68 117.7V140.6M481.02 117.3V141.5M481.36 120.3V149.0M481.70 119.1V144.3M482.04 118.4V140.3M482.38 118.4V143.5M482.72 120.2V140.1M483.06 118.7V139.7M483.40 117.3V145.0M483.74 119.8V146.8M484.08 117.2V139.6M484.42 121.5V147.6M484.76 121.0V142.1M485.10 120.5V140.4M485.44 120.9V144.1M485.78 121.1V152.3M486.12 112.7V140.0M486.46 113.9V145.4M486.80 118.1V141.9M487.14 119.3V149.0M487.48 115.3V140.7M487.82 121.0V139.7M488.16 122.0V144.5M488.50 119.2V144.0M488.84 114.1V140.9M489.18 121.2V141.4M489.52 116.0V148.8M489.86 117.6V145.1M490.20 115.2V140.3M490.54 116.4V144.9M490.88 118.4V144.8M491.22 119.6V141.0M491.56 122.2V140.3M491.90 118.6V144.0M492.24 118.4V150.1M492.58 116.9V140.2M492.92 112.6V140.1M493.26 116.0V145.1M493.60 116.6V143.0M493.94 114.8V139.8M494.28 120.6V141.6M494.62 118.8V143.5M494.96 111.9V148.6M495.30 109.4V143.3M495.64 117.9V142.5M495.98 115.7V140.0M496.32 115.8V141.7M496.66 116.2V140.9M497.00 116.3V140.2M497.34 114.6V142.1M497.68 117.0V149.9M498.02 116.4V143.4M498.36 120.6V147.2M498.70 118.0V141.2M499.04 122.0V141.1M499.38 116.0V140.7M499.72 115.0V147.8M500.06 120.2V145.5M500.40 115.1V142.7M500.74 111.0V143.3M501.08 112.8V145.9M501.42 117.3V143.6M501.76 121.5V152.3M502.10 118.8V141.0M502.44 111.3V146.1M502.78 120.8V145.3M503.12 115.3V142.2M503.46 115.4V139.9M503.80 118.6V140.8M504.14 120.4V148.8M504.48 119.2V142.9M504.82 118.6V142.7M505.16 120.8V147.5M505.50 117.3V142.8M505.84 118.7V147.5M506.18 121.6V139.4M506.52 116.1V148.1M506.86 117.5V150.8M507.20 109.3V144.4M507.54 119.7V142.6M507.88 111.1V148.2M534.06 104.9V138.0M534.40 110.5V137.7M534.74 116.2V141.6M535.08 121.2V141.9M535.42 113.0V148.3M535.76 127.1V152.6M536.10 126.3V148.4M536.44 128.3V146.7M536.78 121.4V149.8M537.12 124.3V147.1M537.46 124.2V152.3M537.80 120.5V141.1M538.14 118.4V139.9M538.48 113.2V138.2M538.82 111.0V140.2M539.16 113.0V141.9M539.50 114.7V138.3M539.84 113.1V140.9M540.18 121.8V148.6M540.52 121.9V146.1M540.86 127.7V151.2M541.20 125.7V149.4M541.54 117.6V151.0M541.88 122.3V151.0M542.22 125.6V145.5M542.56 120.4V147.6M542.90 113.6V145.0M543.24 108.2V140.6M543.58 113.7V138.9M543.92 116.9V143.7M544.26 115.4V140.4M544.60 116.2V141.9M544.94 118.1V146.0M545.28 119.6V151.7M545.62 122.9V150.6M545.96 123.6V152.0M546.30 128.6V151.5M546.64 127.9V150.9M546.98 120.1V148.7M547.32 121.0V145.2M547.66 122.7V141.8M548.00 118.6V140.3M548.34 111.6V139.9M548.68 114.0V139.1M549.02 113.5V144.6M549.36 112.8V136.9M549.70 117.2V139.8M550.04 116.7V150.5M550.38 123.7V150.1M550.72 122.2V148.7M551.06 124.8V152.5M551.40 128.8V147.9M551.74 126.3V151.5M552.08 119.2V146.6M552.42 117.8V144.7M552.76 117.6V142.6M553.10 119.1V138.3M553.44 113.6V138.8M553.78 115.1V137.8M554.12 117.8V137.7M554.46 112.8V139.4M554.80 119.4V143.7M555.14 120.5V142.2M555.48 120.0V145.1M555.82 127.1V155.2M556.16 125.9V146.8M556.50 120.9V150.6M556.84 127.9V145.7M557.18 121.1V146.0M557.52 118.9V143.9M557.86 111.8V143.7M558.20 108.4V137.4M558.54 117.7V139.1M558.88 116.6V137.7M559.22 112.5V142.4M559.56 119.5V138.4M559.90 119.3V145.6M560.24 117.6V143.6M560.58 125.7V148.8M560.92 126.2V149.1M561.26 126.4V147.4M561.60 127.9V159.6M561.94 120.4V149.6M562.28 116.0V148.5M562.62 118.2V142.2M562.96 117.3V143.3M563.30 117.2V143.2M563.64 116.1V140.3M563.98 107.4V137.7M564.32 105.4V140.4M564.66 116.8V139.8M565.00 120.5V140.8M565.34 121.6V144.2M565.68 125.2V145.6M566.02 127.6V152.4M566.36 122.9V154.2M566.70 124.1V146.8M567.04 126.7V154.2M567.38 125.1V148.3M567.72 122.6V144.1M568.06 108.5V143.6M568.40 117.4V137.5M568.74 117.3V138.0M569.08 113.0V136.3M569.42 117.3V142.1M569.76 118.2V142.6M570.10 120.1V143.3M570.44 125.0V145.2M570.78 125.7V147.9M571.12 128.6V148.3M571.46 119.2V147.5M571.80 115.3V146.7M572.14 114.6V152.5M572.48 119.9V144.1M572.82 121.7V141.7M573.16 110.7V139.5M573.50 111.7V137.3M573.84 110.8V141.8M574.18 105.3V139.5M574.52 118.3V138.8M574.86 117.6V139.8M575.20 123.8V142.2M575.54 122.9V144.5M575.88 127.6V150.7M576.22 116.5V148.0M576.56 123.4V156.0M576.90 120.5V145.6M577.24 124.2V151.3M577.58 115.8V143.0M577.92 121.1V142.5M578.26 113.9V138.6M578.60 115.5V138.6M578.94 111.7V138.0M579.28 111.2V137.8M579.62 111.9V140.1M579.96 114.2V142.1M580.30 122.4V149.9M580.64 120.7V147.5M580.98 122.2V148.1M581.32 127.9V153.2M581.66 125.7V149.3M582.00 124.8V152.2M582.34 118.2V145.5M582.68 122.2V146.9M583.02 120.7V148.4M583.36 118.6V145.8M583.70 117.9V141.7M584.04 117.0V139.5M584.38 115.7V146.0M584.72 119.7V139.5M585.06 121.5V147.5M585.40 121.5V148.3M585.74 125.0V153.7M586.08 128.0V149.2M586.42 118.0V153.2M586.76 126.0V151.8M587.10 125.6V148.2M587.44 120.0V151.8M587.78 121.7V140.4M588.12 119.8V139.3M588.46 117.6V138.3M588.80 117.9V138.7M589.14 115.9V139.1M589.48 110.1V142.3M589.82 111.8V146.4M590.16 115.5V147.3M590.50 124.1V145.2M590.84 124.4V147.4M591.18 127.0V155.2M591.52 126.0V148.7M591.86 123.8V146.6M592.20 119.6V150.3M592.54 122.6V144.6M592.88 108.7V145.0M593.22 114.6V142.6M593.56 117.2V137.0M593.90 116.0V138.5M594.24 115.6V140.5M594.58 118.5V138.1M594.92 114.3V147.6M595.26 120.5V152.6M595.60 122.6V149.1M595.94 124.3V152.9M596.28 126.2V148.5M596.62 118.6V150.2M596.96 122.2V146.8M597.30 124.7V148.9M597.64 122.0V144.5M597.98 120.2V142.6M598.32 118.7V138.1" stroke="#ff0000" stroke-width="0.55" fill="none"/><path d="M508.56 118.0V143.1M509.58 116.8V143.2M510.60 124.5V148.2M511.62 128.3V155.3M512.64 121.8V148.4M513.66 117.3V137.9M514.68 119.2V145.4M515.70 117.1V149.7M516.72 128.5V150.0M517.74 122.6V148.5M518.76 109.4V141.6M519.78 115.2V138.5M520.80 125.6V146.1M521.82 123.9V151.1M522.84 122.9V143.2M523.86 115.2V143.3M524.88 119.6V144.9M525.90 126.1V151.2M526.92 125.7V153.4M527.94 113.9V145.4M528.96 116.7V140.0M529.98 122.4V147.7M531.00 126.8V151.4M532.02 116.7V154.4M533.04 114.4V145.7" stroke="#ff0000" stroke-width="0.6" fill="none" stroke-opacity="0.8"/><path d="M532.02 126.3V146.3M532.70 123.7V140.4M533.38 119.0V138.1M534.06 118.0V135.7M534.74 119.2V138.0M535.42 125.7V143.4M536.10 129.2V147.5M536.78 128.3V146.5M537.46 124.5V141.8M538.14 118.8V137.7M538.82 117.8V136.8M539.50 119.2V137.7M540.18 123.6V142.2M540.86 127.8V146.1M541.54 129.6V146.0M542.22 125.3V145.1M542.90 119.3V140.3M543.58 117.5V136.8M544.26 117.6V137.5M544.94 120.7V140.5M545.62 126.3V145.8M546.30 129.2V146.3M546.98 125.9V144.6M547.66 121.6V142.6M548.34 119.3V138.1M549.02 117.9V135.7M549.70 119.1V140.3M550.38 124.3V143.7M551.06 126.8V147.2M551.74 126.5V147.3M552.42 125.1V143.7M553.10 118.5V139.2M553.78 116.9V135.0M554.46 118.4V138.1M555.14 124.5V141.9M555.82 128.5V147.4M556.50 129.3V148.2M557.18 126.6V144.9M557.86 121.8V140.1M558.54 118.5V137.6M559.22 118.6V136.6M559.90 121.1V140.1M560.58 126.8V144.5M561.26 127.3V146.3M561.94 128.2V147.0M562.62 121.8V142.2M563.30 118.9V138.9M563.98 117.5V134.9M564.66 119.5V138.4M565.34 123.9V144.0M566.02 128.9V147.7M566.70 128.0V147.6M567.38 125.0V143.2M568.06 120.2V138.1M568.74 117.4V136.5M569.42 117.6V136.6M570.10 122.6V141.4M570.78 126.3V146.6M571.46 128.0V147.7M572.14 126.2V145.8M572.82 120.5V140.4M573.50 118.7V136.4M574.18 118.4V135.9M574.86 122.0V141.3M575.54 126.6V144.9M576.22 128.7V146.5M576.90 126.8V145.7M577.58 121.6V141.9M578.26 117.5V138.6M578.94 117.3V134.9M579.62 120.2V137.4M580.30 123.4V142.0M580.98 127.3V146.1M581.66 128.1V147.7M582.34 125.6V143.1M583.02 120.7V140.2M583.70 117.2V135.8M584.38 119.1V136.0M585.06 122.4V141.2M585.74 126.5V146.1M586.42 127.2V147.5M587.10 126.7V146.0M587.78 122.9V141.4M588.46 117.0V137.6M589.14 118.6V136.7M589.82 120.0V139.5M590.50 124.3V143.2M591.18 128.2V147.4M591.86 126.4V145.9M592.54 124.1V142.9M593.22 120.2V137.8M593.90 117.3V136.9M594.58 119.6V138.4M595.26 123.1V142.9M595.94 126.3V146.3M596.62 128.0V145.9M597.30 126.0V143.5M597.98 121.4V139.6" stroke="#ff0000" stroke-width="0.8" fill="none"/><polyline points="508.3,90.5 508.6,202.4 509.6,112.0 510.5,170.0 511.3,108.0 513.3,178.4 514.0,92.9 515.3,181.2 516.5,102.0 517.2,168.0 518.8,93.9 519.2,185.1 520.5,98.4 521.5,165.0 523.2,92.9 524.2,175.7 526.0,104.0 527.0,165.0 529.4,100.4 530.3,178.4 531.2,112.0 532.0,160.0 533.1,110.3 534.4,163.4 536.0,114.0 537.0,158.0 538.3,107.6 539.2,160.0 540.3,110.0 542.0,156.7" stroke="#ff3030" stroke-width="0.9" fill="none" stroke-opacity="0.75"/><text x="410" y="221.5" font-size="9" text-anchor="end">-2</text><text x="410" y="178.5" font-size="9" text-anchor="end">-1</text><text x="410" y="135.5" font-size="9" text-anchor="end">0</text><text x="410" y="92.5" font-size="9" text-anchor="end">1</text><text x="413.2" y="229.2" font-size="9" text-anchor="middle">0.016</text><text x="459.6" y="229.2" font-size="9" text-anchor="middle">0.018</text><text x="506.0" y="229.2" font-size="9" text-anchor="middle">0.020</text><text x="552.4" y="229.2" font-size="9" text-anchor="middle">0.022</text><text x="598.8" y="229.2" font-size="9" text-anchor="middle">0.024</text><text x="505.8" y="244.3" font-size="12" text-anchor="middle">Time(s)</text><text transform="translate(390.6 138.8) rotate(-90)" font-size="13" text-anchor="middle">Amplitude(V)</text><text x="426" y="50.6" font-size="24.8">Partial Discharge</text></svg></body></html>
